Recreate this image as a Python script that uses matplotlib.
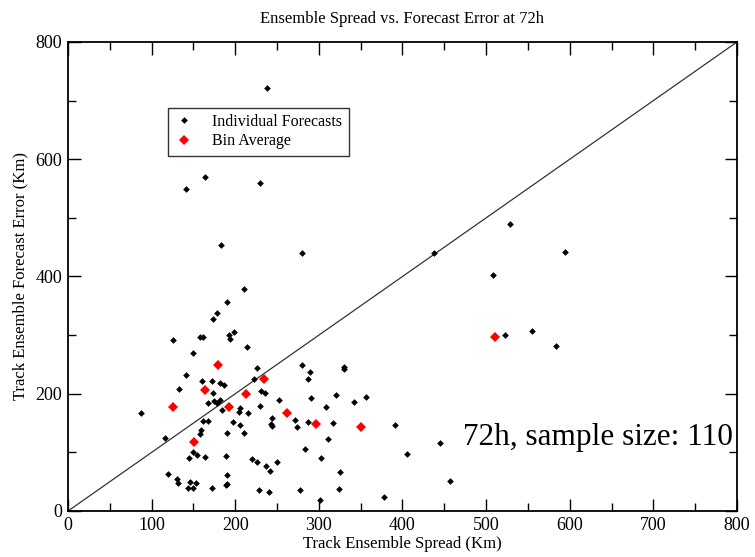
import matplotlib
matplotlib.use("Agg")
import matplotlib.pyplot as plt
from matplotlib.ticker import MultipleLocator

# Track ensemble spread (km) and forecast error (km)
indiv_spread = [
    238, 164, 141, 230, 183, 210, 190, 178, 173, 125, 158, 161, 193, 199, 194, 214, 280,
    149, 141, 226, 222, 160, 172, 182, 187, 133, 173, 231, 236, 252, 175, 178, 167, 182,
    206, 205, 215, 230, 87, 161, 167, 197, 244, 243, 244, 206, 159, 158, 190, 210, 116,
    150, 154, 145, 164, 189, 220, 226, 237, 242, 250, 119, 190, 130, 132, 146, 153, 144,
    150, 172, 189, 190, 228, 240, 184,
    280, 330, 330, 289, 287, 321, 291, 356, 342, 309, 272, 274, 287, 317, 311, 283, 303,
    325, 324, 277, 301, 391, 405, 378, 445, 457,
    529, 438, 594, 508, 522, 555, 584,
]
indiv_error = [
    722, 569, 550, 560, 453, 378, 357, 338, 327, 292, 296, 296, 301, 305, 293, 279, 440,
    269, 232, 244, 225, 221, 221, 219, 215, 208, 201, 204, 202, 189, 188, 185, 184, 189,
    176, 169, 167, 179, 167, 154, 154, 151, 158, 148, 145, 147, 138, 131, 133, 133, 125,
    101, 96, 90, 92, 93, 88, 84, 76, 69, 84, 63, 61, 54, 47, 50, 48, 39,
    39, 39, 44, 46, 35, 32, 172,
    249, 246, 242, 237, 226, 198, 192, 195, 186, 177, 155, 143, 152, 150, 123, 106, 91,
    67, 37, 35, 18, 147, 97, 24, 116, 52,
    490, 440, 442, 402, 301, 307, 282,
]

bin_spread = [179, 234, 164, 213, 125, 193, 262, 151, 297, 350, 511]
bin_error = [249, 225, 206, 200, 177, 177, 167, 117, 148, 143, 296]

title = "Ensemble Spread vs. Forecast Error at 72h"
xlabel = "Track Ensemble Spread (Km)"
ylabel = "Track Ensemble Forecast Error (Km)"
note = "72h, sample size: 110"

plt.rcParams["font.family"] = ["Liberation Serif", "DejaVu Serif"]

fig = plt.figure(figsize=(7.55, 5.57), dpi=100)
ax = fig.add_axes([0.0901, 0.0826, 0.886, 0.842])

ax.plot([0, 800], [0, 800], color="#333333", lw=0.9, zorder=1)
ax.plot(indiv_spread, indiv_error, "D", color="black", ms=3.4, mew=0,
        label="Individual Forecasts", zorder=3)
ax.plot(bin_spread, bin_error, "D", color="#ff0000", ms=5.2, mew=0,
        label="Bin Average", zorder=4)

ax.set_xlim(0, 800)
ax.set_ylim(0, 800)
ax.xaxis.set_major_locator(MultipleLocator(100))
ax.xaxis.set_minor_locator(MultipleLocator(50))
ax.yaxis.set_major_locator(MultipleLocator(200))
ax.yaxis.set_minor_locator(MultipleLocator(100))
ax.tick_params(which="both", direction="in", top=True, right=True,
               labelsize=13, width=1.0, pad=4)
ax.tick_params(which="major", length=9)
ax.tick_params(which="minor", length=5.5)
for sp in ax.spines.values():
    sp.set_linewidth(1.3)

ax.set_title(title, fontsize=12, pad=14)
ax.set_xlabel(xlabel, fontsize=12, labelpad=2)
ax.set_ylabel(ylabel, fontsize=12, labelpad=5)

leg = ax.legend(loc="upper left", bbox_to_anchor=(0.149, 0.86), fontsize=11.5,
                frameon=True, fancybox=False, edgecolor="black",
                handlelength=1.2, handletextpad=1.2, borderpad=0.4,
                labelspacing=0.2, borderaxespad=0.0)
leg.get_frame().set_linewidth(1.0)

ax.text(472, 126, note, fontsize=22.5, ha="left", va="center", clip_on=False)

fig.savefig("out.png", dpi=100)
